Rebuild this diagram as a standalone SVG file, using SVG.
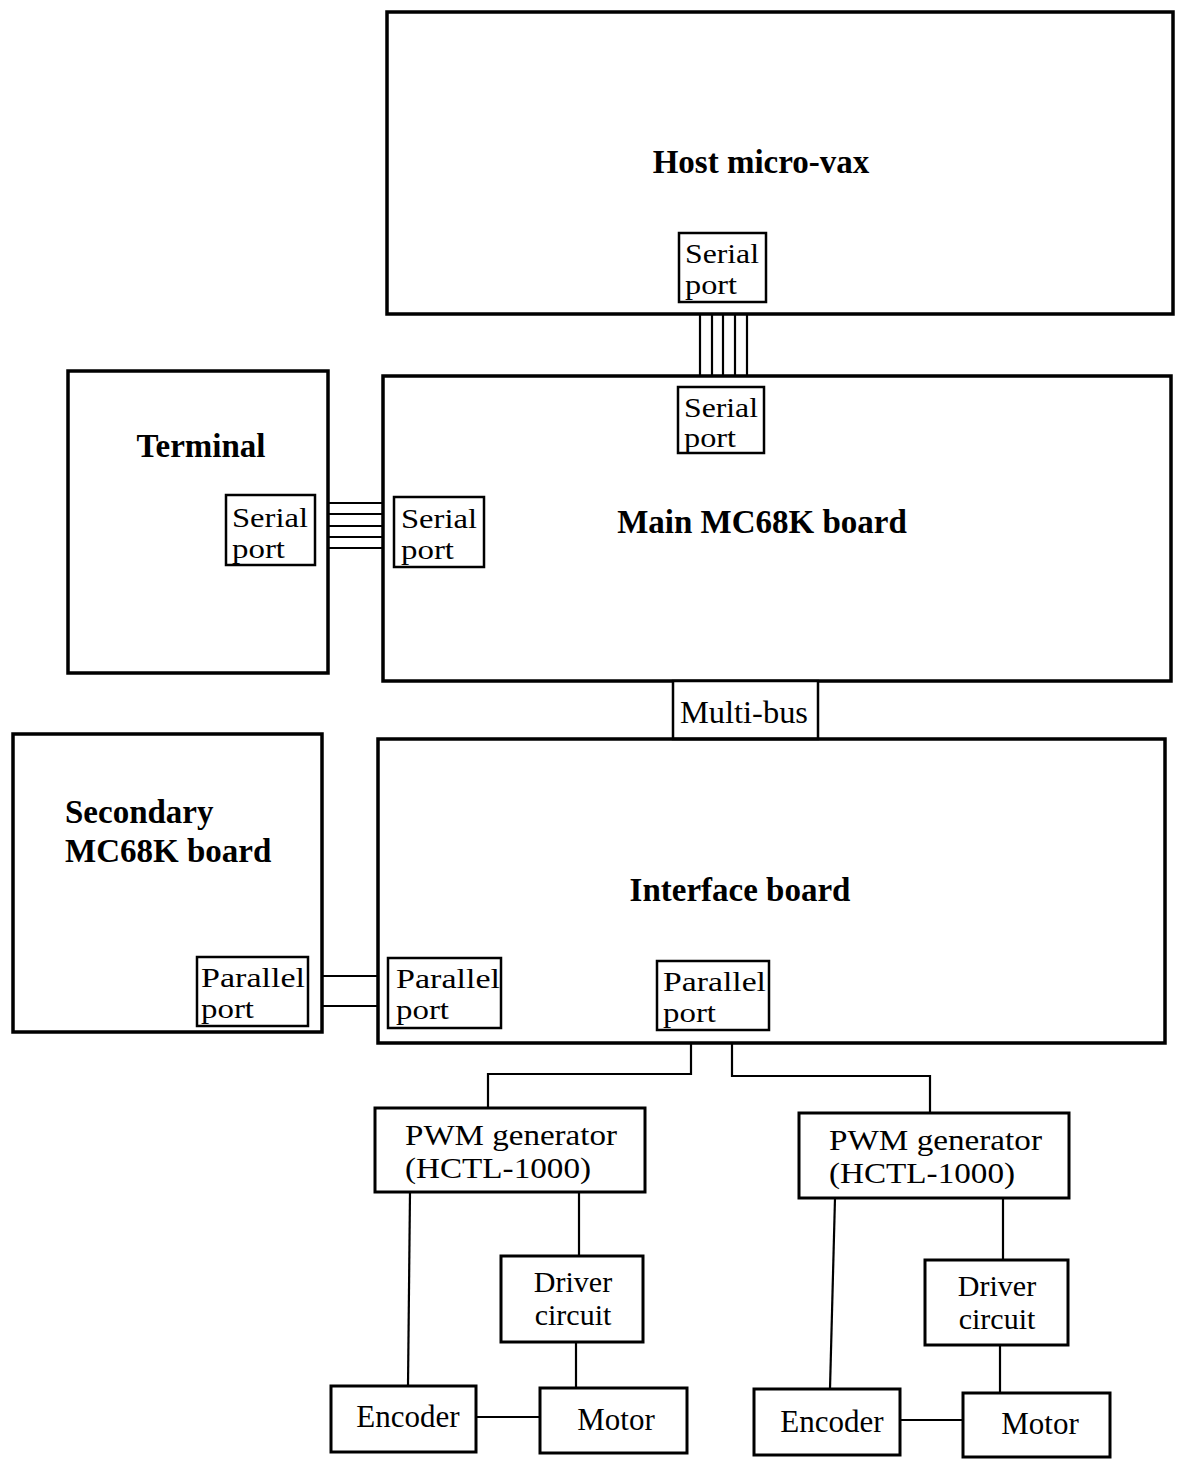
<svg xmlns="http://www.w3.org/2000/svg" width="1180" height="1461" viewBox="0 0 1180 1461">
<style>
.board{fill:none;stroke:#000;stroke-width:3.5}
.box{fill:none;stroke:#000;stroke-width:3}
.port{fill:#fff;stroke:#000;stroke-width:2.5}
.wire{fill:none;stroke:#000;stroke-width:2.2}
.title{font-family:"Liberation Serif","Times New Roman",serif;font-weight:bold;font-size:33px;fill:#000}
.lbl{font-family:"Liberation Serif","Times New Roman",serif;font-size:31px;fill:#000}
.lb2{font-family:"Liberation Serif","Times New Roman",serif;font-size:30px;fill:#000}
.pl{font-family:"Liberation Serif","Times New Roman",serif;font-size:28px;fill:#000}
.c{text-anchor:middle}
</style>
<rect width="1180" height="1461" fill="#fff"/>
<g id="connectors">
<line class="wire" x1="700" y1="314" x2="700" y2="376"/>
<line class="wire" x1="712" y1="314" x2="712" y2="376"/>
<line class="wire" x1="723" y1="314" x2="723" y2="376"/>
<line class="wire" x1="735" y1="314" x2="735" y2="376"/>
<line class="wire" x1="747" y1="314" x2="747" y2="376"/>
<line class="wire" x1="328" y1="503" x2="383" y2="503"/>
<line class="wire" x1="328" y1="514" x2="383" y2="514"/>
<line class="wire" x1="328" y1="526" x2="383" y2="526"/>
<line class="wire" x1="328" y1="537" x2="383" y2="537"/>
<line class="wire" x1="328" y1="548" x2="383" y2="548"/>
<line class="wire" x1="322" y1="976" x2="378" y2="976"/>
<line class="wire" x1="322" y1="1006" x2="378" y2="1006"/>
<polyline class="wire" points="691,1043 691,1074 488,1074 488,1108"/>
<polyline class="wire" points="732,1043 732,1076 930,1076 930,1113"/>
<line class="wire" x1="410" y1="1192" x2="408" y2="1386"/>
<line class="wire" x1="579" y1="1192" x2="579" y2="1256"/>
<line class="wire" x1="576" y1="1342" x2="576" y2="1388"/>
<line class="wire" x1="476" y1="1417" x2="540" y2="1417"/>
<line class="wire" x1="835" y1="1198" x2="830" y2="1389"/>
<line class="wire" x1="1003" y1="1198" x2="1003" y2="1260"/>
<line class="wire" x1="1000" y1="1345" x2="1000" y2="1393"/>
<line class="wire" x1="900" y1="1420" x2="963" y2="1420"/>
</g>
<g id="host">
<rect class="board" x="387" y="12" width="786" height="302"/>
<text class="title c" x="761" y="173">Host micro-vax</text>
</g>
<g id="host-serial">
<rect class="port" x="679" y="233" width="87" height="69"/>
<text class="pl" x="685" y="263" textLength="74" lengthAdjust="spacingAndGlyphs">Serial</text>
<text class="pl" x="685" y="294" textLength="52" lengthAdjust="spacingAndGlyphs">port</text>
</g>
<g id="main">
<rect class="board" x="383" y="376" width="788" height="305"/>
<text class="title c" x="762" y="533">Main MC68K board</text>
</g>
<g id="main-serial-top">
<rect class="port" x="678" y="387" width="86" height="66"/>
<text class="pl" x="684" y="417" textLength="74" lengthAdjust="spacingAndGlyphs">Serial</text>
<text class="pl" x="684" y="447" textLength="52" lengthAdjust="spacingAndGlyphs">port</text>
</g>
<g id="main-serial-left">
<rect class="port" x="394" y="497" width="90" height="70"/>
<text class="pl" x="401" y="528" textLength="76" lengthAdjust="spacingAndGlyphs">Serial</text>
<text class="pl" x="401" y="559" textLength="53" lengthAdjust="spacingAndGlyphs">port</text>
</g>
<g id="terminal">
<rect class="board" x="68" y="371" width="260" height="302"/>
<text class="title c" x="201" y="457">Terminal</text>
</g>
<g id="terminal-serial">
<rect class="port" x="226" y="495" width="89" height="70"/>
<text class="pl" x="232" y="527" textLength="76" lengthAdjust="spacingAndGlyphs">Serial</text>
<text class="pl" x="232" y="558" textLength="53" lengthAdjust="spacingAndGlyphs">port</text>
</g>
<g id="multibus">
<rect class="port" x="673" y="681" width="145" height="58"/>
<text class="lbl" x="680" y="723" textLength="128" lengthAdjust="spacingAndGlyphs">Multi-bus</text>
</g>
<g id="secondary">
<rect class="board" x="13" y="734" width="309" height="298"/>
<text class="title" x="65" y="823">Secondary</text>
<text class="title" x="65" y="862">MC68K board</text>
</g>
<g id="secondary-parallel">
<rect class="port" x="197" y="957" width="111" height="69"/>
<text class="pl" x="201" y="987" textLength="104" lengthAdjust="spacingAndGlyphs">Parallel</text>
<text class="pl" x="201" y="1018" textLength="53" lengthAdjust="spacingAndGlyphs">port</text>
</g>
<g id="interface">
<rect class="board" x="378" y="739" width="787" height="304"/>
<text class="title c" x="740" y="901">Interface board</text>
</g>
<g id="interface-parallel-left">
<rect class="port" x="388" y="958" width="113" height="70"/>
<text class="pl" x="396" y="988" textLength="104" lengthAdjust="spacingAndGlyphs">Parallel</text>
<text class="pl" x="396" y="1019" textLength="53" lengthAdjust="spacingAndGlyphs">port</text>
</g>
<g id="interface-parallel-mid">
<rect class="port" x="657" y="961" width="112" height="69"/>
<text class="pl" x="663" y="991" textLength="103" lengthAdjust="spacingAndGlyphs">Parallel</text>
<text class="pl" x="663" y="1022" textLength="53" lengthAdjust="spacingAndGlyphs">port</text>
</g>
<g id="pwm1">
<rect class="box" x="375" y="1108" width="270" height="84"/>
<text class="lb2" x="405" y="1145" textLength="212" lengthAdjust="spacingAndGlyphs">PWM generator</text>
<text class="lb2" x="405" y="1178" textLength="186" lengthAdjust="spacingAndGlyphs">(HCTL-1000)</text>
</g>
<g id="driver1">
<rect class="box" x="501" y="1256" width="142" height="86"/>
<text class="lb2 c" x="573" y="1292">Driver</text>
<text class="lb2 c" x="573" y="1325">circuit</text>
</g>
<g id="encoder1">
<rect class="box" x="331" y="1386" width="145" height="66"/>
<text class="lbl c" x="408" y="1427">Encoder</text>
</g>
<g id="motor1">
<rect class="box" x="540" y="1388" width="147" height="65"/>
<text class="lbl c" x="616" y="1430">Motor</text>
</g>
<g id="pwm2">
<rect class="box" x="799" y="1113" width="270" height="85"/>
<text class="lb2" x="829" y="1150" textLength="213" lengthAdjust="spacingAndGlyphs">PWM generator</text>
<text class="lb2" x="829" y="1183" textLength="186" lengthAdjust="spacingAndGlyphs">(HCTL-1000)</text>
</g>
<g id="driver2">
<rect class="box" x="925" y="1260" width="143" height="85"/>
<text class="lb2 c" x="997" y="1296">Driver</text>
<text class="lb2 c" x="997" y="1329">circuit</text>
</g>
<g id="encoder2">
<rect class="box" x="754" y="1389" width="146" height="66"/>
<text class="lbl c" x="832" y="1432">Encoder</text>
</g>
<g id="motor2">
<rect class="box" x="963" y="1393" width="147" height="64"/>
<text class="lbl c" x="1040" y="1434">Motor</text>
</g>
</svg>
